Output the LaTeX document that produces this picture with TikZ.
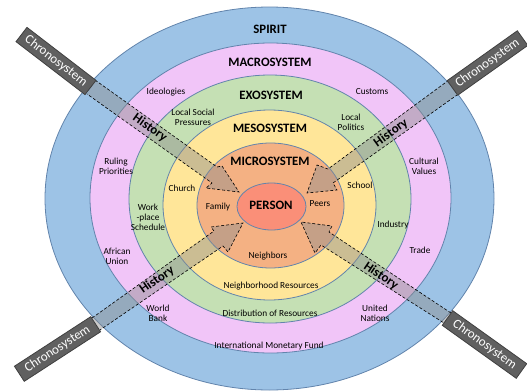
\documentclass[tikz,border=0pt]{standalone}
\usepackage{fontspec}
\setmainfont{Carlito}
\usetikzlibrary{positioning}
\definecolor{myblue}{RGB}{157,195,230}
\definecolor{mypink}{RGB}{241,197,248}
\definecolor{mygreen}{RGB}{197,224,180}
\definecolor{myyellow}{RGB}{255,230,153}
\definecolor{myorange}{RGB}{244,177,131}
\definecolor{myred}{RGB}{250,143,120}
\definecolor{myline}{RGB}{98,132,172}
\definecolor{mygray}{RGB}{96,96,96}

\begin{document}
\begin{tikzpicture}[x=1pt,y=-1pt,
  ring/.style={draw=myline,line width=0.8pt},
  band/.style={draw=black,dash pattern=on 3pt off 2pt,line width=0.6pt,fill=black!45,fill opacity=0.45},
  chrono/.style={draw=black!75,line width=0.8pt,fill=mygray,text=white,minimum height=18pt,inner sep=0pt,font=\fontsize{13}{13}\selectfont},
  sys/.style={font=\bfseries\fontsize{12.8}{13}\selectfont,inner sep=1pt},
  lbl/.style={font=\fontsize{9.3}{10}\selectfont,align=center,inner sep=1pt},
  hist/.style={font=\bfseries\fontsize{13}{13}\selectfont,inner sep=0pt}]
\useasboundingbox (0,0) rectangle (527,391);

% rings, outside in
\draw[ring,fill=myblue] (269.5,198.5) ellipse [x radius=224.5,y radius=191.5];
\draw[ring,fill=mypink] (270.5,198) ellipse [x radius=180.5,y radius=155];
\draw[ring,fill=mygreen] (270,199) ellipse [x radius=141,y radius=124];
\draw[ring,fill=myyellow] (269.5,205) ellipse [x radius=106.5,y radius=95];
\draw[ring,fill=myorange] (270.5,205.5) ellipse [x radius=73.5,y radius=62.5];
\draw[ring,fill=myred] (271.5,206.5) ellipse [x radius=34.5,y radius=23.5];

% history bands
\draw[band] (95,80) -- (217,167) -- (222,166) -- (239,192) -- (206,188) -- (212,183) -- (87,94);
\draw[band] (449,80) -- (328,169) -- (317,165) -- (307,193) -- (337,190) -- (333,183) -- (457,95);
\draw[band] (92,318) -- (214,231) -- (211,227) -- (243,223) -- (228,252) -- (223,246) -- (100,330);
\draw[band] (451,313) -- (329,232) -- (332,226) -- (301,222) -- (315,253) -- (321,245) -- (444,323);

% system names
\node[sys] (spirit) at (270,29) {SPIRIT};
\node[sys] (macro) at (270,62) {MACROSYSTEM};
\node[sys] (exo) at (271,95) {EXOSYSTEM};
\node[sys] (meso) at (270,128) {MESOSYSTEM};
\node[sys] (micro) at (270,161) {MICROSYSTEM};
\node[sys] (person) at (271,205) {PERSON};

% what sits in each ring
\node[lbl] (family) at (218,207) {Family};
\node[lbl] (peers) at (320,204) {Peers};
\node[lbl] (neighbors) at (268,256) {Neighbors};
\node[lbl] (church) at (182,188) {Church};
\node[lbl] (school) at (360,185) {School};
\node[lbl] (hoodres) at (271,286) {Neighborhood Resources};
\node[lbl] (distres) at (270,313) {Distribution of Resources};
\node[lbl] (imf) at (269,346) {International Monetary Fund};
\node[lbl] (ideologies) at (166,92) {Ideologies};
\node[lbl] (pressures) at (193,117) {Local Social\\Pressures};
\node[lbl] (ruling) at (116,166) {Ruling\\Priorities};
\node[lbl] (workplace) at (148,217) {Work\\-place\\Schedule};
\node[lbl] (african) at (117,256) {African\\Union};
\node[lbl] (worldbank) at (158,313) {World\\Bank};
\node[lbl] (customs) at (372,92) {Customs};
\node[lbl] (politics) at (351,122) {Local\\Politics};
\node[lbl] (cultural) at (424,166) {Cultural\\Values};
\node[lbl] (industry) at (393,225) {Industry};
\node[lbl] (trade) at (420,250) {Trade};
\node[lbl] (un) at (375,313) {United\\Nations};

% chronosystem
\node[chrono,minimum width=87pt,rotate=-37.5] (chronoA) at (56,61) {Chronosystem};
\node[chrono,minimum width=86pt,rotate=35.4] (chronoB) at (487.5,63) {Chronosystem};
\node[chrono,minimum width=91pt,rotate=33] (chronoC) at (57.5,349) {Chronosystem};
\node[chrono,minimum width=91pt,rotate=-35.6] (chronoD) at (484.5,344.5) {Chronosystem};
\node[hist,rotate=-35.5] (histA) at (150,128) {History};
\node[hist,rotate=36] (histB) at (391,133) {History};
\node[hist,rotate=35] (histC) at (157,280) {History};
\node[hist,rotate=-34] (histD) at (381,276) {History};
\end{tikzpicture}
\end{document}
